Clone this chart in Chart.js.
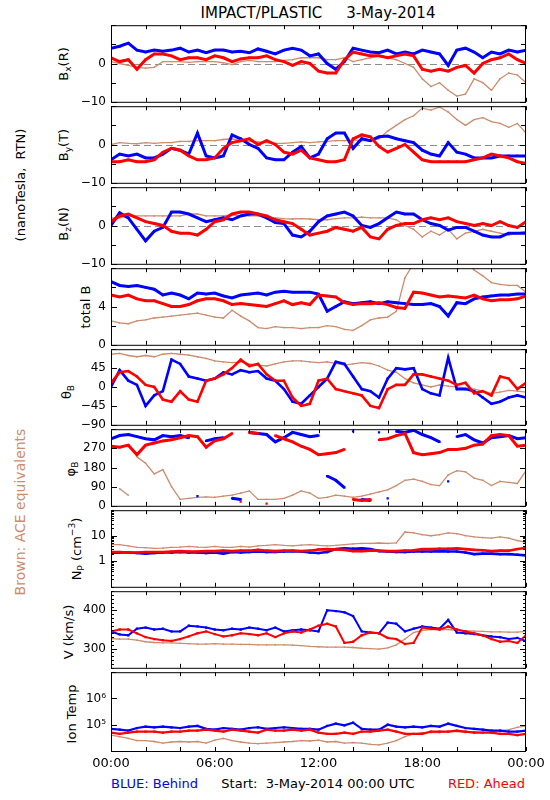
<!DOCTYPE html>
<html>
<head>
<meta charset="utf-8">
<script src="https://cdn.jsdelivr.net/npm/chart.js@4.4.1/dist/chart.umd.min.js"></script>
<style>
  html, body { margin: 0; padding: 0; background: #fff; }
  #page { position: relative; width: 550px; height: 800px; overflow: hidden; font-family: "DejaVu Sans", sans-serif; color: #000; }
  #page canvas { position: absolute; left: 0; }
  .t { position: absolute; white-space: pre; line-height: 1; }
  .v { position: absolute; white-space: pre; line-height: 1; font-size: 13px; transform: translate(-50%, -50%) rotate(-90deg); }
  sub, sup { font-size: 70%; line-height: 0; }
</style>
</head>
<body>
<div id="page">
  <div class="t" style="left:318px; top:13px; transform:translate(-50%,-50%); font-size:15px;">IMPACT/PLASTIC     3-May-2014</div>

  <div class="v" style="left:20px; top:185px;">(nanoTesla,  RTN)</div>
  <div class="v" style="left:20px; top:512px; font-size:14px; color:rgb(205,140,110);">Brown: ACE equivalents</div>

  <div class="v" style="left:63px; top:64px;">B<sub>x</sub>(R)</div>
  <div class="v" style="left:63px; top:145px;">B<sub>y</sub>(T)</div>
  <div class="v" style="left:63px; top:224px;">B<sub>z</sub>(N)</div>
  <div class="v" style="left:85px; top:307px;">total B</div>
  <div class="v" style="left:66px; top:392px;">θ<sub>B</sub></div>
  <div class="v" style="left:70px; top:469px;">φ<sub>B</sub></div>
  <div class="v" style="left:76px; top:549px;">N<sub>P</sub> (cm<sup>−3</sup>)</div>
  <div class="v" style="left:68px; top:632px;">V (km/s)</div>
  <div class="v" style="left:71px; top:714px;">Ion Temp</div>

  <div class="t" style="left:111px; top:783px; transform:translateY(-50%); font-size:13px; color:#0000ff;">BLUE: Behind</div>
  <div class="t" style="left:318px; top:783px; transform:translate(-50%,-50%); font-size:13px;">Start:  3-May-2014 00:00 UTC</div>
  <div class="t" style="right:25px; top:783px; transform:translateY(-50%); font-size:13px; color:#ff0000;">RED: Ahead</div>
</div>

<script>
// time of each sample, hours after 3-May-2014 00:00 UTC
const hours = [0,0.5,1,1.5,2,2.5,3,3.5,4,4.5,5,5.5,6,6.5,7,7.5,8,8.5,9,9.5,10,10.5,11,11.5,
  12,12.5,13,13.5,14,14.5,15,15.5,16,16.5,17,17.5,18,18.5,19,19.5,20,20.5,21,21.5,22,22.5,23,23.5,24];

// Bx (R), nT
const bxBehind = [4,4.5,5.3,3.5,3,3.5,3.2,3.5,4,3,3.5,2.8,
  3.5,3.5,3,3.2,2.8,3.8,3.2,2.5,3.5,4,3.5,2,
  2.5,0,-1.5,0.5,4,3.5,3,2.8,3.5,2.5,3,2.5,
  3.5,3,2.5,-0.5,3.5,4,3,1.5,3,2.5,3.5,3,
  3.5];
const bxAhead = [1.5,0.5,1,-1.5,1,2.5,2.5,2,1,1.5,1.5,1,
  2,1.5,0.5,1.2,1.5,1.5,2,1,0.5,-0.5,0.5,0,
  -2,-2.5,-2.5,1,3,2.5,2,2,1.5,2,2.5,2,
  -1.5,-2,-1.5,-2,-1,-0.5,-2.5,0,1,1.5,2.5,1,
  0];
const bxAce = [0.5,0,-0.5,-1,-1.2,-1,0.5,0.5,0.5,0.3,0.5,0.5,
  0.5,0.2,-0.3,0.5,0.8,0.5,0.5,0.5,0.8,1,1.5,1.5,
  1.5,1,1,1.5,0.5,1,1.5,2,1.5,1,0,-1,
  -4,-6,-5,-7,-8.5,-8,-4,-5,-7,-4,-2.5,-3,
  -5];

// By (T), nT
const byBehind = [-4,-2.5,-3,-2.5,-3.5,-3.5,-2.5,-1,-1.5,-2.5,3,-3,
  -3.5,-3,2.5,1.5,0,-1,-3.5,-4,-4,-2,-0.5,-3.5,
  -2.5,1.5,3,3,-1,1.5,1,2,2.2,1.5,1,0.5,
  -1.5,-2.5,-3,0.5,-2,-2.5,-3.5,-3.5,-3.5,-3,-3,-3,
  -3];
const byAhead = [-4.5,-4.5,-4,-4.5,-4.5,-4,-2,-1,-1.5,-3,-4,-4,
  -3.5,-1,0.5,1,1.5,0,1,0,-2,-2.5,-1.5,-3.5,
  -4,-4.5,-4.5,-4,1.5,2.5,2,-0.5,-2,-1,0,-2,
  -4,-4.5,-4.5,-4.5,-4.5,-4.5,-4,-3.5,-2.5,-3,-3.5,-4.5,
  -5];
const byAce = [0,0.5,0.3,0.2,0.5,0.3,0.5,0.5,0.8,0.8,1,1,
  1,1.3,1.5,1,0.8,0.7,0.5,0.3,0.3,0.5,0.7,0.5,
  0.7,0.8,1,1,1.2,1,1,1.5,3.5,5,6.5,7.5,
  9.5,9,9.8,8.5,6.5,5,6.5,7,6,5.5,4.5,5.5,
  3];

// Bz (N), nT
const bzBehind = [0,3.3,2,-1,-4,-1.5,-0.5,3.5,3.5,3,2,1,
  1.5,2,1.5,2.5,3,3,2,0.8,0.5,-2.5,-3,-1.5,
  1,2.5,3,3.5,2.5,0,-0.5,0.5,2,3.5,3,3,
  1.5,0.5,0,-1.2,-0.5,-0.5,-1.5,-2.5,-3,-3,-2,-2,
  -2];
const bzAhead = [1,2.5,3,2,1,0.5,0,-1.5,-2,-2,-2.5,-1,
  1,1.5,3,3.5,3.5,3,2.5,1.5,1,0.5,-1,-2.5,
  -2,-1.5,-0.5,-1,-1.5,-0.5,-3,-3.5,-1,0,0.5,0.5,
  1.5,2,1.5,2,1,0.5,0,0.5,0,1,0,-0.5,
  1];
const bzAce = [2,2,2.5,2.5,2.5,2.5,2.5,2.5,2.5,3,3,2.5,
  2.5,2.5,2.8,2.5,2.5,2.5,2,2,1.8,1.7,1.8,1.7,
  1.5,1.5,1.8,2,2,2.2,2,2,2,1.5,0,-1,
  -3,-1.5,-2.5,-1,-3.5,-2,-1.5,-1,-1.5,-2,-2.5,-2,
  -1.5];

// total B, nT
const btBehind = [6.6,6.2,6.1,6.2,6,5.8,5.2,5.4,5.2,4.8,5.4,5.3,
  5.4,5.1,4.9,5.2,5.3,5.4,5.2,5.5,5.6,5.5,5.5,5.5,
  5.3,3.5,4,4.5,4.3,4.4,4.5,4.3,4.5,4.4,4.3,4.2,
  4.2,4.3,4,3,4.4,4.3,4.8,5,5.1,5.2,5.2,5.3,
  5.3];
const btAhead = [5.2,5,5.2,4.8,4.6,4.6,4.3,4,4,4.2,4.6,4.8,
  4.8,4.6,4.2,4.3,4.2,4.1,4,4.3,4.6,4.2,4.4,4.2,
  5.2,5.1,5,4.4,4.2,4.3,4.3,4.4,4.2,3.9,3.8,5.5,
  5.4,5.2,5,5.1,5,4.9,5.2,4.8,4.6,4.7,4.7,4.8,
  5.1];
const btAce = [2.5,2.3,2.2,2.5,2.6,2.8,2.9,3,3.1,3.2,3.3,3.1,
  2.9,2.8,3.6,3,2.5,1.8,1.7,1.9,1.8,1.8,1.7,1.8,
  1.8,2,1.9,1.6,1.5,2,2.6,2.8,2.9,3.5,7,8.5,
  9,9,9,9,9,9,7.8,7.2,6.5,6.3,6.2,6.2,
  5.5];

// theta_B, degrees
const thetaBehind = [0,40,15,5,-45,-20,-10,65,55,25,20,15,
  20,35,30,40,35,38,20,15,-5,-35,-40,-20,
  0,20,60,55,25,-5,-10,-25,20,45,42,45,
  -5,-15,-20,70,-5,-5,-10,-25,-40,-35,-25,-20,
  -25];
const thetaAhead = [10,35,38,25,5,0,-30,-35,-10,-30,-35,15,
  20,30,45,65,50,55,30,15,15,-25,-45,-40,
  15,20,-5,-10,-15,-20,-45,-50,-5,5,5,30,
  30,25,20,15,5,10,-15,-10,-20,25,20,-5,
  10];
const thetaAce = [78,80,75,72,75,72,78,80,78,76,72,68,
  62,60,58,60,55,52,50,55,60,62,62,60,
  58,60,56,52,55,58,56,50,40,35,20,10,
  5,0,5,2,0,-2,-5,-10,-15,-12,-8,-10,
  -12];

// phi_B, degrees
const phiBehind = [315,330,335,325,315,310,330,325,330,320,45,305,
  315,320,35,30,345,340,335,300,320,345,335,325,
  330,140,120,85,350,30,25,345,35,350,345,355,
  335,320,300,115,325,335,310,295,320,325,330,315,
  320];
const phiAhead = [280,275,285,240,285,295,305,310,320,330,325,275,
  305,315,340,20,345,340,10,330,315,300,280,265,
  240,245,250,265,30,25,30,310,315,330,340,250,
  240,245,250,265,265,270,285,290,330,335,330,280,
  285];
const phiAce = [250,80,50,230,200,150,170,90,30,35,40,42,
  40,45,50,60,70,30,30,30,35,50,70,60,
  35,40,50,45,40,45,55,65,75,95,120,125,
  115,100,95,145,165,160,130,120,95,115,110,105,
  165];

// proton density, cm^-3
const npBehind = [2.1,2.2,2.2,2.1,2.0,2.1,2.2,2.2,2.3,2.2,2.2,2.1,
  2.2,2.0,2.3,2.2,2.3,2.4,2.3,2.3,2.4,2.5,2.4,2.2,
  2.1,2.3,3.0,3.2,3.1,3.2,3.0,2.5,2.4,2.3,2.3,2.4,
  2.4,2.4,2.5,2.4,2.4,2.2,1.9,2.0,2.0,1.9,1.9,1.8,
  1.7];
const npAhead = [2.3,2.3,2.2,2.2,2.3,2.3,2.3,2.4,2.5,2.4,2.4,2.5,
  2.5,2.6,2.5,2.6,2.6,2.8,2.6,2.5,2.6,2.6,2.5,2.6,
  2.9,3.0,2.9,2.8,2.5,2.5,2.6,2.6,2.5,2.5,2.6,2.7,
  3.0,3.0,3.1,3.1,3.2,3.0,2.8,2.7,2.5,2.6,2.6,3.0,
  3.3];
const npAce = [4.5,4.5,4.0,3.5,3.4,3.2,3.3,3.5,3.6,3.8,3.6,3.5,
  3.8,3.5,3.5,3.8,3.6,4.0,4.2,4.5,4.2,4.0,4.3,4.5,
  4.2,4.0,4.2,4.5,4.8,5.0,5.0,5.2,5.0,5.2,14,13,
  11,10,11,13,12,10,9,8.5,8,9,8,6.5,
  5.5];

// bulk speed, km/s
const vBehind = [345,337,335,352,355,350,352,345,345,360,358,355,
  350,348,352,350,355,352,348,355,345,348,350,348,
  345,400,398,395,385,345,342,340,368,365,345,352,
  358,355,352,375,342,340,338,335,332,330,325,328,
  320];
const vAhead = [345,350,350,340,330,325,322,320,325,332,340,345,
  338,332,335,340,338,335,340,330,340,345,342,350,
  360,365,358,315,318,335,342,340,328,325,312,315,
  355,352,350,358,350,345,340,335,325,318,320,315,
  335];
const vAce = [326,325,325,322,318,316,315,315,314,313,312,312,
  313,312,312,311,311,310,310,310,310,309,308,306,
  305,304,304,304,303,301,300,299,302,310,325,342,
  348,350,350,350,348,347,346,345,344,344,343,343,
  345];

// ion temperature, K
const tBehind = [7.0e4,6.5e4,6.0e4,7.5e4,8.5e4,8.0e4,8.5e4,8.0e4,7.5e4,8.5e4,9.0e4,7.0e4,
  6.5e4,7.5e4,7.0e4,6.5e4,7.5e4,8.0e4,7.0e4,7.5e4,8.0e4,7.5e4,7.0e4,7.0e4,
  6.5e4,9.0e4,1.1e5,9.5e4,1.2e5,7.0e4,6.5e4,6.5e4,1.0e5,8.5e4,8.0e4,8.5e4,
  8.0e4,9.0e4,8.5e4,1.1e5,9.0e4,7.5e4,7.0e4,6.5e4,6.0e4,6.0e4,5.5e4,5.5e4,
  6.0e4];
const tAhead = [5.0e4,4.5e4,5.0e4,5.5e4,5.5e4,5.5e4,5.0e4,5.5e4,5.5e4,6.0e4,6.0e4,6.5e4,
  6.0e4,5.5e4,6.5e4,6.0e4,5.5e4,5.0e4,6.5e4,6.0e4,6.0e4,6.5e4,6.0e4,6.5e4,
  5.0e4,4.5e4,4.5e4,5.0e4,4.5e4,5.5e4,5.5e4,6.0e4,6.5e4,5.5e4,4.5e4,4.5e4,
  4.5e4,5.5e4,5.5e4,5.5e4,6.0e4,5.5e4,5.0e4,5.0e4,5.0e4,4.5e4,4.5e4,4.0e4,
  4.5e4];
const tAce = [4.0e4,3.5e4,3.0e4,2.5e4,2.5e4,2.3e4,2.0e4,2.2e4,2.3e4,2.2e4,2.3e4,2.0e4,
  2.6e4,3.0e4,2.5e4,2.2e4,2.0e4,1.9e4,2.0e4,2.1e4,2.2e4,2.3e4,2.5e4,2.4e4,
  2.6e4,2.2e4,2.3e4,2.0e4,2.1e4,2.0e4,1.8e4,1.7e4,2.0e4,2.5e4,3.5e4,4.5e4,
  5.0e4,5.0e4,5.0e4,5.5e4,5.5e4,5.0e4,5.5e4,5.0e4,5.5e4,6.0e4,6.5e4,8.0e4,
  9.0e4];

// tick values and which of them carry labels
const bTicks = [-10, -5, 0, 5, 10];
const bLabels = [-10, 0];
const btTicks = [0, 2, 4, 6, 8];
const btLabels = [0, 4];
const thetaTicks = [-90, -45, 0, 45, 90];
const thetaLabels = [-90, -45, 0, 45];
const phiTicks = [0, 90, 180, 270, 360];
const phiLabels = [0, 90, 180, 270];
const npTicks = [0.1,0.2,0.3,0.4,0.5,0.6,0.7,0.8,0.9,1,2,3,4,5,6,7,8,9,10,20,30,40,50,60,70,80,90,100];
const npLabels = [1, 10];
const vTicks = [250,260,270,280,290,300,310,320,330,340,350,360,370,380,390,400,410,420,430,440,450];
const vLabels = [300, 400];
const tTicks = [1e4, 1e5, 1e6, 1e7];
const tLabels = [1e5, 1e6];
const tLabelText = { 100000: "10\u2075", 1000000: "10\u2076" };
const timeTicks = [0, 6, 12, 18, 24];
const timeLabels = ["00:00", "06:00", "12:00", "18:00", "00:00"];
const hourMarks = [0, 2, 4, 6, 8, 10, 12, 14, 16, 18, 20, 22, 24];

const BLUE = "#0000ff";
const RED = "#ff0000";
const BROWN = "rgb(205,140,110)";
const FONT = '"DejaVu Sans", sans-serif';

const panels = [
  { type: "linear", min: -10, max: 10, ticks: bTicks, labels: bLabels, minorLen: 5, zero: true, w: 3, series: [bxBehind, bxAhead, bxAce] },
  { type: "linear", min: -10, max: 10, ticks: bTicks, labels: bLabels, minorLen: 5, zero: true, w: 3, series: [byBehind, byAhead, byAce] },
  { type: "linear", min: -10, max: 10, ticks: bTicks, labels: bLabels, minorLen: 5, zero: true, w: 3, series: [bzBehind, bzAhead, bzAce] },
  { type: "linear", min: 0, max: 8, ticks: btTicks, labels: btLabels, minorLen: 5, w: 3, series: [btBehind, btAhead, btAce] },
  { type: "linear", min: -90, max: 90, ticks: thetaTicks, labels: thetaLabels, minorLen: 5, w: 2.6, series: [thetaBehind, thetaAhead, thetaAce] },
  { type: "linear", min: 0, max: 360, ticks: phiTicks, labels: phiLabels, minorLen: 5, w: 3, wrap: true, series: [phiBehind, phiAhead, phiAce] },
  { type: "logarithmic", min: 0.1, max: 100, ticks: npTicks, labels: npLabels, minorLen: 3, w: 2.6, series: [npBehind, npAhead, npAce] },
  { type: "linear", min: 250, max: 450, ticks: vTicks, labels: vLabels, minorLen: 3, w: 2, series: [vBehind, vAhead, vAce] },
  { type: "logarithmic", min: 1e4, max: 1e7, ticks: tTicks, labels: tLabels, minorLen: 5, w: 2.2, text: tLabelText, series: [tBehind, tAhead, tAce] },
];

// panel edges on the page (pixels)
const edges = [23, 104, 185, 266, 347, 427, 508, 589, 670, 751];

const idlFrame = {
  id: "idlFrame",
  beforeDatasetsDraw(chart, args, o) {
    if (!o.zero) return;
    const { ctx, chartArea: a } = chart;
    const y = Math.round(chart.scales.y.getPixelForValue(0)) + 0.5;
    ctx.save();
    ctx.strokeStyle = "#8c8c8c";
    ctx.lineWidth = 1;
    ctx.setLineDash([7, 4]);
    ctx.beginPath();
    ctx.moveTo(a.left, y);
    ctx.lineTo(a.right, y);
    ctx.stroke();
    ctx.restore();
  },
  afterDatasetsDraw(chart, args, o) {
    const { ctx, chartArea: a, scales } = chart;
    ctx.save();
    ctx.strokeStyle = "#000";
    ctx.lineWidth = 1;
    ctx.beginPath();
    scales.y.ticks.forEach((t) => {
      const y = Math.round(scales.y.getPixelForValue(t.value)) + 0.5;
      const len = o.labels.includes(t.value) ? 6 : o.minorLen;
      ctx.moveTo(a.left, y);
      ctx.lineTo(a.left + len, y);
      ctx.moveTo(a.right, y);
      ctx.lineTo(a.right - len, y);
    });
    hourMarks.forEach((h) => {
      const x = Math.round(scales.x.getPixelForValue(h)) + 0.5;
      ctx.moveTo(x, a.top);
      ctx.lineTo(x, a.top + 4);
      ctx.moveTo(x, a.bottom);
      ctx.lineTo(x, a.bottom - 4);
    });
    ctx.stroke();
    ctx.strokeRect(a.left + 0.5, a.top + 0.5, a.right - a.left - 1, a.bottom - a.top);
    ctx.restore();
  },
};

function makeDataset(values, color, width, radius, order, wrap) {
  const ds = {
    data: hours.map((h, i) => ({ x: h, y: values[i] })),
    borderColor: color,
    backgroundColor: color,
    borderWidth: width,
    pointRadius: radius,
    pointStyle: "rect",
    pointBorderWidth: 0,
    tension: 0,
    order: order,
  };
  if (wrap) {
    ds.segment = {
      borderColor: (c) => (Math.abs(c.p1.parsed.y - c.p0.parsed.y) > 150 ? "rgba(0,0,0,0)" : undefined),
    };
  }
  return ds;
}

const page = document.getElementById("page");

panels.forEach((p, k) => {
  const last = k === panels.length - 1;
  const padT = 10;
  const padB = last ? 29 : 10;
  const xh = last ? 20 : 0;
  const top = edges[k];
  const bottom = edges[k + 1];

  const canvas = document.createElement("canvas");
  canvas.width = 550;
  canvas.height = bottom - top + padT + padB + xh;
  canvas.style.top = top - padT + "px";
  page.appendChild(canvas);

  new Chart(canvas, {
    type: "line",
    data: {
      datasets: [
        makeDataset(p.series[2], BROWN, 1.3, 1, 3, p.wrap),
        makeDataset(p.series[0], BLUE, p.w, 1.6, 2, p.wrap),
        makeDataset(p.series[1], RED, p.w, 1.6, 1, p.wrap),
      ],
    },
    options: {
      responsive: false,
      animation: false,
      devicePixelRatio: 1,
      layout: { padding: { left: 0, right: 24, top: padT, bottom: padB } },
      plugins: {
        legend: { display: false },
        tooltip: { enabled: false },
        idlFrame: { zero: !!p.zero, labels: p.labels, minorLen: p.minorLen },
      },
      scales: {
        x: {
          type: "linear",
          min: 0,
          max: 24,
          display: last,
          grid: { display: false, drawTicks: false },
          border: { display: false },
          afterBuildTicks: (s) => { s.ticks = timeTicks.map((v) => ({ value: v })); },
          afterFit: (s) => { s.height = xh; },
          ticks: {
            autoSkip: false,
            maxRotation: 0,
            padding: 5,
            color: "#000",
            font: { family: FONT, size: 13 },
            callback: (v) => timeLabels[timeTicks.indexOf(v)],
          },
        },
        y: {
          type: p.type,
          min: p.min,
          max: p.max,
          grid: { display: false, drawTicks: false },
          border: { display: false },
          afterBuildTicks: (s) => { s.ticks = p.ticks.map((v) => ({ value: v })); },
          afterFit: (s) => { s.width = 111; },
          ticks: {
            autoSkip: false,
            padding: 5,
            color: "#000",
            font: { family: FONT, size: 12 },
            callback: (v) => {
              if (!p.labels.includes(v)) return "";
              if (p.text) return p.text[v];
              return String(v).replace("-", "\u2212");
            },
          },
        },
      },
    },
    plugins: [idlFrame],
  });
});
</script>
</body>
</html>
